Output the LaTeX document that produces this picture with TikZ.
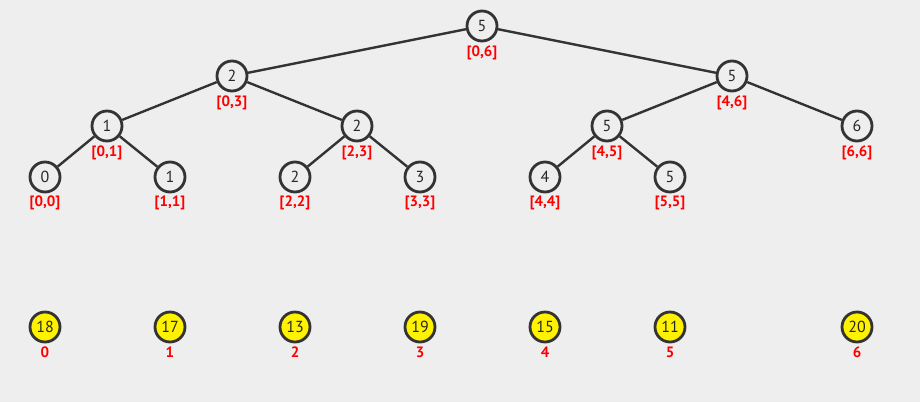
\documentclass[tikz,border=0pt]{standalone}
\usepackage{fontspec}
\setmainfont{PT Sans}
\begin{document}
\begin{tikzpicture}[x=1pt,y=-1pt,
  tn/.style={circle,draw=black!80,line width=2.8pt,fill=bg,minimum size=30pt,inner sep=0pt,font=\fontsize{16}{16}\selectfont,text=black!85},
  yn/.style={tn,fill=yellow},
  lbl/.style={text=red,font=\bfseries\fontsize{15}{15}\selectfont,inner sep=0pt},
  ed/.style={draw=black!80,line width=2.4pt}]
\definecolor{bg}{HTML}{EEEEEE}
\fill[bg] (0,0) rectangle (920,402);
\useasboundingbox (0,0) rectangle (920,402);
% tree nodes
\node[tn] (r) at (482,26) {5};
\node[tn] (a) at (232,76) {2};
\node[tn] (b) at (732,76) {5};
\node[tn] (c) at (107,126) {1};
\node[tn] (d) at (357,126) {2};
\node[tn] (e) at (607,126) {5};
\node[tn] (f) at (857,126) {6};
\node[tn] (g) at (45,177) {0};
\node[tn] (h) at (170,177) {1};
\node[tn] (i) at (295,177) {2};
\node[tn] (j) at (420,177) {3};
\node[tn] (k) at (545,177) {4};
\node[tn] (l) at (670,177) {5};
\draw[ed] (r) -- (a); \draw[ed] (r) -- (b);
\draw[ed] (a) -- (c); \draw[ed] (a) -- (d);
\draw[ed] (b) -- (e); \draw[ed] (b) -- (f);
\draw[ed] (c) -- (g); \draw[ed] (c) -- (h);
\draw[ed] (d) -- (i); \draw[ed] (d) -- (j);
\draw[ed] (e) -- (k); \draw[ed] (e) -- (l);
% range labels
\node[lbl] (lr) at (482,53) {[0,6]};
\node[lbl] (la) at (232,103) {[0,3]};
\node[lbl] (lb) at (732,103) {[4,6]};
\node[lbl] (lc) at (107,153) {[0,1]};
\node[lbl] (ld) at (357,153) {[2,3]};
\node[lbl] (le) at (607,153) {[4,5]};
\node[lbl] (lf) at (857,153) {[6,6]};
\node[lbl] (lg) at (45,203) {[0,0]};
\node[lbl] (lh) at (170,203) {[1,1]};
\node[lbl] (li) at (295,203) {[2,2]};
\node[lbl] (lj) at (420,203) {[3,3]};
\node[lbl] (lk) at (545,203) {[4,4]};
\node[lbl] (ll) at (670,203) {[5,5]};
% array
\foreach \x/\v/\n [count=\k from 0] in {45/18/y0,170/17/y1,295/13/y2,420/19/y3,545/15/y4,670/11/y5,857/20/y6}{
  \node[yn] (\n) at (\x,327) {\v};
  \node[lbl] (i\n) at (\x,352) {\k};
}
\end{tikzpicture}
\end{document}
